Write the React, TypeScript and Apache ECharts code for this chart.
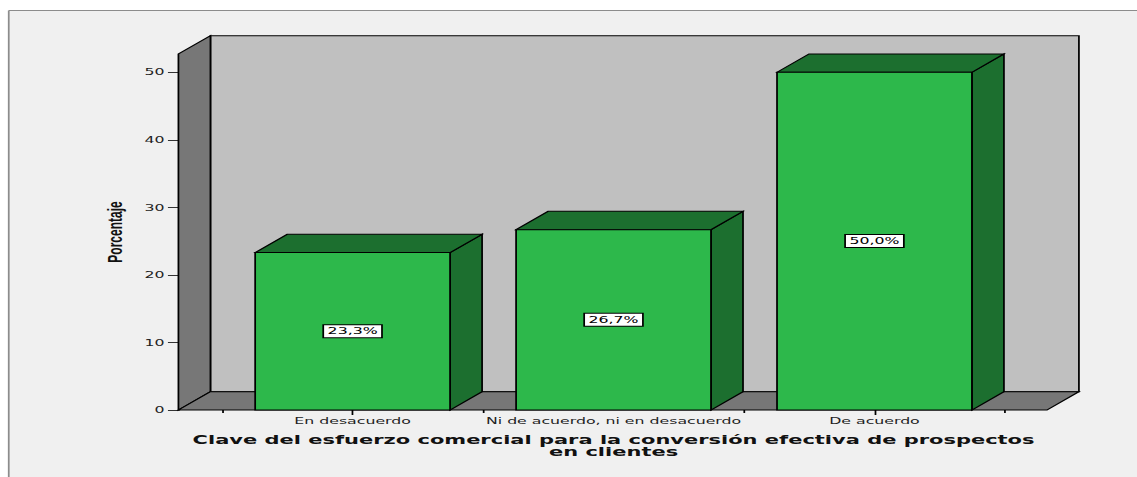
import React, { useEffect, useRef } from "react";
import * as echarts from "echarts";

const categories = ["En desacuerdo", "Ni de acuerdo, ni en desacuerdo", "De acuerdo"];
const percentages = [23.3, 26.7, 50.0];
const yTicks = [0, 10, 20, 30, 40, 50];
const yMax = 52.7;
const yTitle = "Porcentaje";
const xTitle = "Clave del esfuerzo comercial para la conversión efectiva de prospectos\nen clientes";

const BASE_W = 650;
const H = 477;
const STRETCH = 1137 / BASE_W;
const DEPTH = 18.3;
const PAD_L = 25;
const PAD_R = 24;

const FRONT = "#2db84b";
const DARK = "#1c6f2f";

const fmt = (v: number) => v.toFixed(1).replace(".", ",") + "%";

export default function App() {
  const ref = useRef<HTMLDivElement>(null);
  useEffect(() => {
    if (!ref.current) return;
    const chart = echarts.init(ref.current, undefined, { renderer: "svg" });
    const option: any = {
      animation: false,
      backgroundColor: "transparent",
      graphic: [
        {
          type: "rect",
          z: -100,
          silent: true,
          shape: { x: 5, y: 10.5, width: 660, height: 480 },
          style: { fill: "#f0f0f0" },
        },
        {
          type: "line",
          z: -99,
          silent: true,
          shape: { x1: 5, y1: 10.5, x2: 660, y2: 10.5 },
          style: { stroke: "#8c8c8c", lineWidth: 1 },
        },
        {
          type: "line",
          z: -99,
          silent: true,
          shape: { x1: 5, y1: 10.5, x2: 5, y2: 490 },
          style: { stroke: "#8c8c8c", lineWidth: 1 },
        },
      ],
      grid: { left: 127, right: 75.5, top: 54, bottom: 67, outerBoundsMode: "none" },
      xAxis: [
        {
          type: "category",
          data: categories,
          position: "bottom",
          axisLine: { show: false },
          axisTick: { show: true, length: 3, lineStyle: { color: "#000" } },
          axisLabel: {
            interval: 0,
            hideOverlap: false,
            fontFamily: "DejaVu Sans",
            fontSize: 9,
            color: "#222",
            margin: 6,
          },
          name: xTitle,
          nameLocation: "middle",
          nameGap: 23.5,
          nameTextStyle: {
            fontFamily: "DejaVu Sans",
            fontWeight: "bold",
            fontSize: 12,
            lineHeight: 12,
            color: "#111",
          },
        },
        {
          type: "category",
          data: categories,
          position: "bottom",
          axisLine: { show: false },
          axisTick: { show: true, alignWithLabel: true, length: 5, lineStyle: { color: "#000" } },
          axisLabel: { show: false },
        },
      ],
      yAxis: {
        type: "value",
        min: 0,
        max: yMax,
        interval: 10,
        offset: PAD_L,
        position: "left",
        splitLine: { show: false },
        axisLine: { show: true, lineStyle: { color: "#000" } },
        axisTick: { show: true, length: 6, customValues: yTicks, lineStyle: { color: "#333" } },
        axisLabel: {
          customValues: yTicks,
          formatter: (v: number) => (yTicks.indexOf(v) >= 0 ? String(v) : ""),
          fontFamily: "DejaVu Sans",
          fontSize: 9,
          color: "#222",
          margin: 8,
        },
        name: yTitle,
        nameLocation: "middle",
        nameRotate: 90,
        nameGap: 29,
        nameTextStyle: {
          fontFamily: "Liberation Sans",
          fontWeight: "bold",
          fontSize: 12,
          color: "#111",
        },
      },
      series: [
        {
          type: "custom",
          name: "walls",
          z: 1,
          silent: true,
          data: [[0, 0]],
          renderItem: (params: any, api: any) => {
            const cs = params.coordSys;
            const x0 = cs.x - PAD_L;
            const x1 = cs.x + cs.width + PAD_R;
            const yb = cs.y + cs.height;
            const yt = cs.y;
            const D = DEPTH;
            const line = { stroke: "#000", lineWidth: 1 };
            return {
              type: "group",
              children: [
                {
                  type: "rect",
                  shape: { x: x0 + D, y: yt - D, width: x1 - x0, height: yb - yt },
                  style: { fill: "#c0c0c0", ...line },
                },
                {
                  type: "polygon",
                  shape: { points: [[x0, yb], [x0, yt], [x0 + D, yt - D], [x0 + D, yb - D]] },
                  style: { fill: "#777777", ...line },
                },
                {
                  type: "polygon",
                  shape: { points: [[x0, yb], [x1, yb], [x1 + D, yb - D], [x0 + D, yb - D]] },
                  style: { fill: "#777777", ...line },
                },
              ],
            };
          },
        },
        {
          type: "custom",
          name: "Porcentaje",
          z: 2,
          data: categories.map((c, i) => [i, percentages[i]]),
          renderItem: (params: any, api: any) => {
            const xi = api.value(0);
            const v = api.value(1);
            const top = api.coord([xi, v]);
            const base = api.coord([xi, 0]);
            const bw = api.size([1, 0])[0] * 0.747;
            const l = top[0] - bw / 2;
            const r = top[0] + bw / 2;
            const D = DEPTH;
            const line = { stroke: "#000", lineWidth: 1 };
            return {
              type: "group",
              children: [
                {
                  type: "polygon",
                  shape: { points: [[r, top[1]], [r + D, top[1] - D], [r + D, base[1] - D], [r, base[1]]] },
                  style: { fill: DARK, ...line },
                },
                {
                  type: "polygon",
                  shape: { points: [[l, top[1]], [l + D, top[1] - D], [r + D, top[1] - D], [r, top[1]]] },
                  style: { fill: DARK, ...line },
                },
                {
                  type: "rect",
                  shape: { x: l, y: top[1], width: bw, height: base[1] - top[1] },
                  style: { fill: FRONT, ...line },
                },
                {
                  type: "text",
                  style: {
                    text: fmt(v),
                    x: top[0],
                    y: (top[1] + base[1]) / 2,
                    align: "center",
                    verticalAlign: "middle",
                    fill: "#000",
                    fontFamily: "DejaVu Sans",
                    fontSize: 9,
                    backgroundColor: "#fff",
                    borderColor: "#000",
                    borderWidth: 1,
                    padding: [2, 2, 1, 2],
                  },
                },
              ],
            };
          },
        },
      ],
    };
    chart.setOption(option);
    return () => chart.dispose();
  }, []);

  return (
    <div
      style={{
        position: "absolute",
        left: 0,
        top: 0,
        width: BASE_W,
        height: H,
        transform: `scaleX(${STRETCH})`,
        transformOrigin: "0 0",
      }}
    >
      <div ref={ref} style={{ width: BASE_W, height: H }} />
    </div>
  );
}
